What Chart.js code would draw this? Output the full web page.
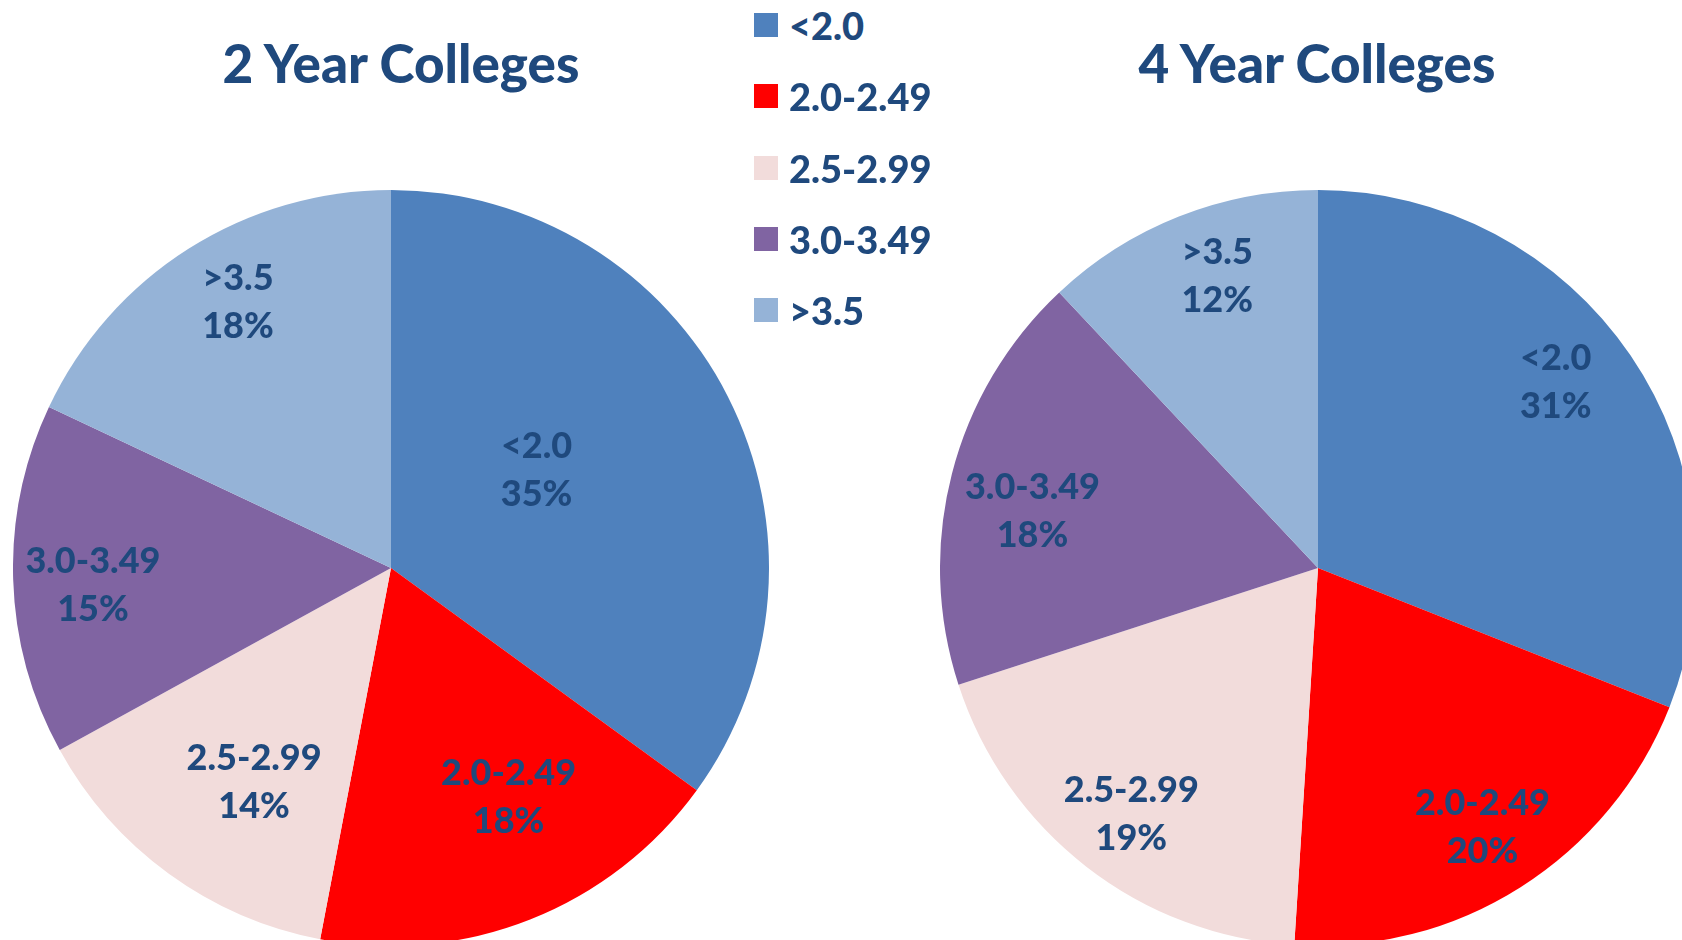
<!DOCTYPE html>
<html>
<head>
<meta charset="utf-8">
<script src="https://cdn.jsdelivr.net/npm/chart.js@4"></script>
<style>
  html, body { margin: 0; padding: 0; background: #fff; }
  body { width: 1682px; height: 940px; overflow: hidden; position: relative; font-family: Lato, "Open Sans", sans-serif; color: #1F497D; }
  .pie-wrap { position: absolute; top: 190px; width: 756px; height: 756px; }
  .pie-title { position: absolute; top: 36px; width: 700px; text-align: center; font-weight: 900; font-size: 53px; line-height: 53px; white-space: nowrap; }
  .legend { position: absolute; left: 754px; top: 0; }
  .legend-item { position: absolute; left: 0; display: flex; align-items: center; height: 38px; white-space: nowrap; }
  .legend-box { width: 24px; height: 24px; margin-right: 11px; flex: none; }
  .legend-text { font-weight: 900; font-size: 38px; line-height: 38px; }
</style>
</head>
<body>
<div id="title0" class="pie-title" style="left:51px"></div>
<div id="title1" class="pie-title" style="left:967px"></div>
<div class="pie-wrap" style="left:13px"><canvas id="pie0"></canvas></div>
<div class="pie-wrap" style="left:940px"><canvas id="pie1"></canvas></div>
<div class="legend" id="legend"></div>

<script>
  // GPA bands and share of students (%)
  const categories = ["<2.0", "2.0-2.49", "2.5-2.99", "3.0-3.49", ">3.5"];
  const twoYearValues = [35, 18, 14, 15, 18];
  const fourYearValues = [31, 20, 19, 18, 12];
  const chartTitles = ["2 Year Colleges", "4 Year Colleges"];

  const sliceColors = ["#4F81BD", "#FF0000", "#F2DCDB", "#8064A2", "#95B3D7"];
  const textColor = "#1F497D";

  // label placement like Excel's best fit: fraction of radius + small turn (deg) off the mid angle
  const twoYearLabelRadius = [0.464, 0.683, 0.674, 0.79, 0.81];
  const twoYearLabelTurn = [-6.9, -5.5, -3.5, -1.6, 2.4];
  const fourYearLabelRadius = [0.798, 0.812, 0.817, 0.77, 0.815];
  const fourYearLabelTurn = [-3.8, 0, -0.6, -3.2, 2.5];

  // draws "category / nn%" inside each slice
  const sliceLabels = {
    id: "sliceLabels",
    afterDatasetsDraw(chart, args, opts) {
      const ctx = chart.ctx;
      const meta = chart.getDatasetMeta(0);
      const values = chart.data.datasets[0].data;
      ctx.save();
      ctx.fillStyle = textColor;
      ctx.font = "900 36px Lato, 'Open Sans', sans-serif";
      ctx.textAlign = "center";
      ctx.textBaseline = "middle";
      meta.data.forEach((arc, i) => {
        const p = arc.getProps(["x", "y", "startAngle", "endAngle", "outerRadius"], true);
        const mid = (p.startAngle + p.endAngle) / 2 + opts.turn[i] * Math.PI / 180;
        const r = p.outerRadius * opts.radius[i];
        const x = p.x + Math.cos(mid) * r;
        const y = p.y + Math.sin(mid) * r;
        ctx.fillText(chart.data.labels[i], x, y - 24);
        ctx.fillText(values[i] + "%", x, y + 24);
      });
      ctx.restore();
    },
  };

  function makePie(canvasId, values, labelRadius, labelTurn) {
    return new Chart(document.getElementById(canvasId), {
      type: "pie",
      data: {
        labels: categories,
        datasets: [{
          data: values,
          backgroundColor: sliceColors,
          borderWidth: 0,
          hoverOffset: 0,
        }],
      },
      options: {
        responsive: true,
        maintainAspectRatio: false,
        animation: false,
        layout: { padding: 0 },
        plugins: {
          legend: { display: false },
          tooltip: { enabled: false },
          sliceLabels: { radius: labelRadius, turn: labelTurn },
        },
      },
      plugins: [sliceLabels],
    });
  }

  makePie("pie0", twoYearValues, twoYearLabelRadius, twoYearLabelTurn);
  makePie("pie1", fourYearValues, fourYearLabelRadius, fourYearLabelTurn);

  document.getElementById("title0").textContent = chartTitles[0];
  document.getElementById("title1").textContent = chartTitles[1];

  // shared legend in the middle
  const legend = document.getElementById("legend");
  categories.forEach((c, i) => {
    const item = document.createElement("div");
    item.className = "legend-item";
    item.style.top = (25 + i * 71.3 - 19) + "px";
    const box = document.createElement("span");
    box.className = "legend-box";
    box.style.background = sliceColors[i];
    const txt = document.createElement("span");
    txt.className = "legend-text";
    txt.textContent = c;
    item.appendChild(box);
    item.appendChild(txt);
    legend.appendChild(item);
  });
</script>
</body>
</html>
